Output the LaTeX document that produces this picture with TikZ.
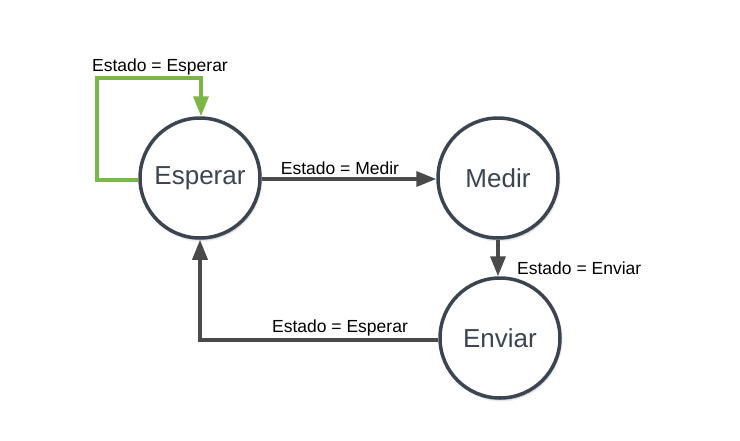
\documentclass[tikz,border=0pt]{standalone}
\usepackage{fontspec}
\setmainfont{Liberation Sans}
\usetikzlibrary{arrows.meta,shadows.blur}
\definecolor{circ}{HTML}{3B4552}
\definecolor{arr}{HTML}{4A4A4A}
\definecolor{grn}{HTML}{7AB648}
\tikzset{
  state/.style={circle,draw=circ,line width=3.5pt,fill=white,minimum size=120pt,inner sep=0pt,
    font=\fontsize{26}{29}\selectfont,text=circ,blur shadow={shadow blur steps=6,shadow xshift=1pt,shadow yshift=-2pt,shadow opacity=25}},
  conn/.style={draw=arr,line width=3.5pt,-{Triangle[length=20pt,width=15pt]}},
  gconn/.style={draw=grn,line width=3.5pt,-{Triangle[length=20pt,width=15pt]}},
  lbl/.style={font=\fontsize{17.5}{20}\selectfont,text=black,inner sep=0pt}
}
\begin{document}
\begin{tikzpicture}[x=1pt,y=-1pt]
\useasboundingbox (0,0) rectangle (740,440);
\node[state] (esp) at (200,178) {Esperar};
\node[state] (med) at (498,178) {Medir};
\node[state] (env) at (500,338) {Enviar};
\coordinate (g1) at (97,180);
\coordinate (g2) at (97,78);
\coordinate (g3) at (201,78);
\draw[gconn] (esp.west |- g1) -- (g1) -- (g2) -- (g3) -- (esp.north -| g3);
\draw[conn] (esp.east |- 0,179) -- (med.west |- 0,179);
\draw[conn] (med.south -| 498,0) -- (env.north -| 498,0);
\coordinate (b1) at (200,340);
\draw[conn] (env.west |- b1) -- (b1) -- (esp.south);
\node[lbl] (l1) at (160,67) {Estado = Esperar};
\node[lbl] (l2) at (340,168) {Estado = Medir};
\node[lbl,anchor=west] (l3) at (517,268) {Estado = Enviar};
\node[lbl] (l4) at (340,328) {Estado = Esperar};
\end{tikzpicture}
\end{document}
